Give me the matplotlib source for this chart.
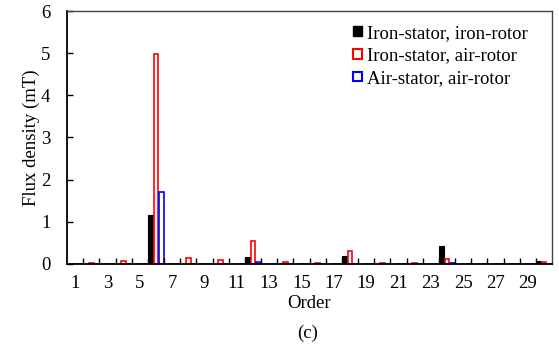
import numpy as np
import matplotlib
matplotlib.use("Agg")
import matplotlib.pyplot as plt
from matplotlib.patches import Patch

plt.rcParams['font.family'] = ['Liberation Serif', 'DejaVu Serif']

orders = np.arange(1, 31)
# flux density (mT) per harmonic order
iron_iron = [0.0, 0.0, 0.0, 0.0, 0.0, 1.16, 0.0, 0.0, 0.0, 0.0,
             0.0, 0.17, 0.0, 0.0, 0.0, 0.0, 0.0, 0.19, 0.0, 0.0,
             0.0, 0.0, 0.0, 0.43, 0.0, 0.0, 0.0, 0.0, 0.0, 0.07]
iron_air = [0.0, 0.02, 0.0, 0.06, 0.0, 4.98, 0.0, 0.13, 0.0, 0.09,
            0.0, 0.55, 0.0, 0.04, 0.0, 0.03, 0.0, 0.31, 0.0, 0.03,
            0.0, 0.02, 0.0, 0.12, 0.0, 0.01, 0.0, 0.01, 0.0, 0.04]
air_air = [0.0, 0.0, 0.0, 0.0, 0.0, 1.71, 0.0, 0.0, 0.0, 0.0,
           0.0, 0.04, 0.0, 0.0, 0.0, 0.0, 0.0, 0.0, 0.0, 0.01,
           0.0, 0.01, 0.0, 0.02, 0.0, 0.0, 0.0, 0.01, 0.0, 0.0]
labels = ['Iron-stator, iron-rotor', 'Iron-stator, air-rotor',
          'Air-stator, air-rotor']

fs = 13.5
fig = plt.figure(figsize=(5.59, 3.45), dpi=100)
ax = fig.add_axes([0.12, 0.235, 0.8675, 0.733])

w = 1 / 3.
ax.bar(orders - w, iron_iron, width=w, color='black', edgecolor='black',
       linewidth=0.8)
ax.bar(orders, iron_air, width=w * 0.85, color='white', edgecolor='red',
       linewidth=1.2)
ax.bar(orders + w, air_air, width=w * 0.85, color='white', edgecolor='blue',
       linewidth=1.2)

ax.set_xlim(0.5, 30.5)
ax.set_ylim(0, 6)
ax.set_xticks(np.arange(1, 31, 2))
ax.set_xticks(np.arange(1.5, 30.5, 1), minor=True)
ax.tick_params(axis='x', which='major', length=0, pad=8, labelsize=fs)
ax.tick_params(axis='x', which='minor', direction='in', length=4, width=1)
ax.tick_params(axis='y', direction='in', length=4, width=1, labelsize=fs,
               pad=12)
ax.set_yticks(range(7))

for s in ['top', 'right']:
    ax.spines[s].set_color('#444444')
    ax.spines[s].set_linewidth(1)
for s in ['left', 'bottom']:
    ax.spines[s].set_linewidth(1.3)

ax.set_xlabel('Order', fontsize=fs, labelpad=2)
ax.set_ylabel('Flux density (mT)', fontsize=fs, labelpad=1)

handles = [Patch(facecolor='black', edgecolor='black'),
           Patch(facecolor='white', edgecolor='red', linewidth=1.5),
           Patch(facecolor='white', edgecolor='blue', linewidth=1.5)]
ax.legend(handles, labels, loc='upper right', frameon=False, fontsize=fs,
          handlelength=0.5, handleheight=0.4, handletextpad=0.25,
          labelspacing=0.3, borderaxespad=0.0,
          bbox_to_anchor=(0.965, 0.975))

fig.text(0.551, 0.035, '(c)', ha='center', va='center', fontsize=fs)

fig.savefig('out.png', dpi=100)
